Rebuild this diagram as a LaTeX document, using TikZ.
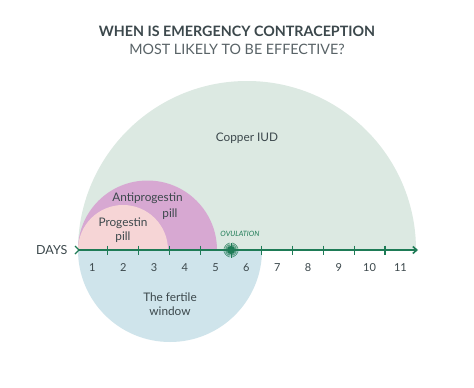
\documentclass[tikz,border=0pt]{standalone}
\usepackage{fontspec}
\setmainfont{Lato}
\usetikzlibrary{arrows.meta}
\definecolor{iud}{HTML}{DCE9E2}
\definecolor{anti}{HTML}{D7A8D2}
\definecolor{prog}{HTML}{F6D5D6}
\definecolor{fert}{HTML}{CFE4EB}
\definecolor{axisg}{HTML}{1E7B56}
\definecolor{txt}{HTML}{3C484C}
\tikzset{
  lbl/.style={text=txt, font=\fontsize{11.8}{13}\selectfont, inner sep=0pt},
  daynum/.style={text=txt, font=\fontsize{11}{12}\selectfont, inner sep=0pt},
  tickmark/.style={draw=axisg, line width=1.3pt},
}
\begin{document}
\begin{tikzpicture}[x=1pt,y=-1pt]
\useasboundingbox (0,0) rectangle (474,388);
\fill[white] (0,0) rectangle (474,388);
% titles
\node[text=txt, font=\bfseries\fontsize{14.3}{16}\selectfont, inner sep=0pt] (t1) at (237,31) {WHEN IS EMERGENCY CONTRACEPTION};
\node[text=txt!85, font=\fontsize{14.3}{16}\selectfont, inner sep=0pt] (t2) at (237,49) {MOST LIKELY TO BE EFFECTIVE?};
% regions
\fill[iud] (78,250) arc[start angle=180, end angle=360, radius=169] -- cycle;
\fill[anti] (78,250) arc[start angle=180, end angle=360, radius=69.5] -- cycle;
\fill[prog] (78,250) arc[start angle=180, end angle=360, radius=45] -- cycle;
\fill[fert] (78,250) arc[start angle=180, end angle=0, radius=92] -- cycle;
% labels
\node[lbl] (cu) at (247,138) {Copper IUD};
\node[lbl] (ap1) at (147.5,198) {Antiprogestin};
\node[lbl] (ap2) at (170,214) {pill};
\node[lbl] (pg1) at (123,223) {Progestin};
\node[lbl] (pg2) at (123,237.5) {pill};
\node[lbl] (fw1) at (170,297) {The fertile};
\node[lbl] (fw2) at (170,311) {window};
\node[text=axisg, font=\itshape\fontsize{7.3}{8}\selectfont, inner sep=0pt] (ov) at (240,234) {OVULATION};
\node[text=txt, font=\fontsize{12.5}{14}\selectfont, inner sep=0pt, anchor=west] (days) at (36,250.5) {DAYS};
% axis
\coordinate (a0) at (78,250);
\coordinate (a1) at (418,250);
\draw[axisg, line width=1.6pt, -{Straight Barb[length=4pt,width=7pt]}] (a0) -- (a1);
\draw[axisg, line width=1.4pt] (75,246) -- (79,250) -- (75,254);
\foreach \k in {1,2,3,4,6,7,8,9,10}{
  \draw[tickmark] ({77+30.8*\k},245.5) -- ({77+30.8*\k},254.5);
}
\foreach \k in {1,...,11}{
  \node[daynum] (d\k) at ({77+30.8*(\k-0.5)},267.5) {\k};
}
% ovulation burst
\coordinate (ovc) at (231,250);
\foreach \a in {0,10,...,350}{
  \draw[axisg, line width=0.4pt] (ovc) -- ++(\a:7.5);
}
\fill[axisg] (ovc) circle (4);
\end{tikzpicture}
\end{document}
